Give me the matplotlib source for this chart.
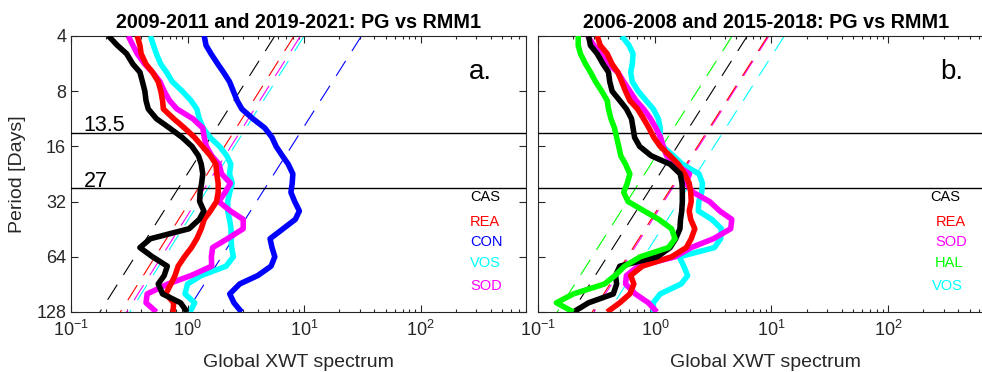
import matplotlib
matplotlib.use('Agg')
import matplotlib.pyplot as plt
from matplotlib.ticker import NullLocator

plt.rcParams['font.family'] = ['Liberation Sans', 'DejaVu Sans']

# period grid (days), shared by all curves
periods = [4, 4.5, 5, 5.7, 6.3, 7.1, 8, 9, 10, 11.3, 12.7, 14.3, 16, 18, 20, 22.6,
           25.4, 28.5, 32, 36, 40, 45, 51, 57, 64, 72, 81, 90, 102, 114, 128]

# panel a: 2009-2011 and 2019-2021
cas_a = [0.21, 0.25, 0.30, 0.34, 0.39, 0.41, 0.43, 0.44, 0.46, 0.54, 0.70, 0.90, 1.09, 1.24, 1.31, 1.35,
         1.32, 1.28, 1.27, 1.38, 1.26, 1.03, 0.48, 0.39, 0.50, 0.67, 0.63, 0.56, 0.61, 0.87, 0.99]
rea_a = [0.37, 0.39, 0.40, 0.44, 0.50, 0.56, 0.59, 0.61, 0.62, 0.76, 0.94, 1.15, 1.34, 1.57, 1.75, 1.78,
         1.83, 1.83, 1.77, 1.57, 1.39, 1.31, 1.20, 1.08, 0.94, 0.83, 0.78, 0.72, 0.65, 0.76, 0.75]
con_a = [1.39, 1.44, 1.59, 1.82, 2.03, 2.29, 2.47, 2.66, 2.92, 3.63, 4.60, 5.3, 5.75, 6.5, 7.3, 8.0,
         7.9, 7.7, 8.3, 9.1, 8.4, 6.6, 5.1, 5.3, 5.6, 5.2, 4.0, 2.8, 2.3, 2.5, 2.9]
vos_a = [0.48, 0.51, 0.54, 0.59, 0.66, 0.74, 0.90, 1.07, 1.20, 1.26, 1.36, 1.56, 1.88, 2.17, 2.35, 2.29,
         2.42, 2.30, 2.21, 2.21, 2.29, 2.36, 2.36, 2.39, 2.47, 2.14, 1.31, 1.00, 0.95, 1.15, 1.05]
sod_a = [0.31, 0.34, 0.37, 0.43, 0.50, 0.58, 0.63, 0.70, 0.81, 1.11, 1.35, 1.39, 1.45, 1.61, 1.86, 1.96,
         2.33, 2.10, 1.85, 2.33, 3.0, 3.0, 2.2, 1.64, 1.60, 1.61, 1.07, 0.68, 0.45, 0.44, 0.54]

# panel b: 2006-2008 and 2015-2018
cas_b = [0.27, 0.28, 0.32, 0.36, 0.40, 0.41, 0.43, 0.50, 0.57, 0.63, 0.65, 0.67, 0.74, 0.93, 1.35, 1.65,
         1.71, 1.72, 1.72, 1.70, 1.66, 1.64, 1.51, 1.35, 1.05, 0.50, 0.46, 0.47, 0.44, 0.27, 0.20]
rea_b = [0.32, 0.34, 0.39, 0.43, 0.48, 0.52, 0.56, 0.61, 0.71, 0.80, 0.89, 0.98, 1.11, 1.35, 1.59, 1.80,
         1.97, 2.03, 2.05, 1.97, 2.03, 2.20, 2.05, 1.86, 1.39, 0.78, 0.62, 0.66, 0.61, 0.50, 0.39]
sod_b = [0.265, 0.30, 0.34, 0.40, 0.48, 0.54, 0.61, 0.69, 0.80, 0.92, 1.02, 1.12, 1.18, 1.26, 1.51, 1.98,
         1.85, 2.13, 2.95, 3.6, 4.57, 4.47, 3.18, 2.05, 1.49, 0.72, 0.57, 0.56, 0.68, 0.88, 1.04]
hal_b = [0.22, 0.22, 0.23, 0.255, 0.28, 0.31, 0.35, 0.39, 0.40, 0.42, 0.45, 0.47, 0.49, 0.51, 0.56, 0.61,
         0.58, 0.54, 0.59, 0.81, 1.08, 1.39, 1.49, 1.31, 0.75, 0.55, 0.455, 0.37, 0.20, 0.143, 0.20]
vos_b = [0.52, 0.60, 0.65, 0.64, 0.62, 0.64, 0.72, 0.84, 0.97, 1.07, 1.11, 1.11, 1.17, 1.44, 1.72, 2.39,
         2.56, 2.52, 2.38, 2.36, 3.08, 3.72, 3.67, 3.24, 1.62, 1.77, 1.91, 1.68, 1.11, 0.97, 0.97]

# significance lines: spectrum value at period 4 and at period 128
sig_periods = [4, 128]
sig_a = {'CAS': [5.6, 0.177], 'REA': [8.2, 0.265], 'CON': [31, 0.98], 'VOS': [10.0, 0.32], 'SOD': [9.3, 0.30]}
sig_b = {'CAS': [6.2, 0.195], 'REA': [9.3, 0.29], 'SOD': [9.5, 0.30], 'HAL': [4.6, 0.145], 'VOS': [12.9, 0.40]}

band_periods = [13.5, 27]
ytick_vals = [4, 8, 16, 32, 64, 128]

colors = {'CAS': 'k', 'REA': (1, 0, 0), 'CON': (0, 0, 1), 'VOS': (0, 1, 1), 'SOD': (1, 0, 1), 'HAL': (0, 1, 0)}
gray = '#262626'

fig = plt.figure(figsize=(9.82, 3.72), dpi=100)
W, H = 982., 372.
ax_a = fig.add_axes([71 / W, 1 - 312 / H, 455 / W, 276 / H])
ax_b = fig.add_axes([538.3 / W, 1 - 312 / H, 455 / W, 276 / H])


def setup(ax, title, tag, tag_x):
    ax.set_xscale('log')
    ax.set_yscale('log', base=2)
    ax.set_xlim(0.1, 800)
    ax.set_ylim(128, 4)
    ax.set_yticks(ytick_vals)
    ax.yaxis.set_minor_locator(NullLocator())
    ax.tick_params(which='both', direction='in', top=True, right=True, colors=gray,
                   labelsize=13, width=0.8)
    ax.tick_params(axis='x', which='both', pad=6)
    ax.tick_params(which='major', length=5)
    ax.tick_params(which='minor', length=2.5)
    for s in ax.spines.values():
        s.set_color(gray)
        s.set_linewidth(0.8)
    for p in band_periods:
        ax.axhline(p, color='k', lw=1.0, zorder=3)
    ax.set_title(title, fontsize=14.2, fontweight='bold', pad=6)
    ax.set_xlabel('Global XWT spectrum', fontsize=14, color=gray, labelpad=9.5)
    ax.text(tag_x, 0.844, tag, transform=ax.transAxes, fontsize=20, ha='right', va='baseline')


setup(ax_a, '2009-2011 and 2019-2021: PG vs RMM1', 'a.', 0.925)
setup(ax_b, '2006-2008 and 2015-2018: PG vs RMM1', 'b.', 0.933)

ax_a.set_yticklabels([str(v) for v in ytick_vals])
ax_b.set_yticklabels([])
ax_a.set_ylabel('Period [Days]', fontsize=14, color=gray, labelpad=7)

for p in band_periods:
    ax_a.annotate(str(p), (0.128, p), xytext=(0, 1), textcoords='offset points',
                  fontsize=15.5, va='baseline', ha='left')


def draw(ax, curves, sig, order, label_x, label_y):
    for name in order:
        ax.plot(sig[name], sig_periods, color=colors[name], lw=0.8, dashes=(16, 10.5), zorder=2)
    for name in order:
        ax.plot(curves[name], periods, color=colors[name], lw=4, solid_capstyle='butt',
                solid_joinstyle='round', zorder=4)
    for i, name in enumerate(sig):
        ax.text(label_x[i], label_y[i], name, transform=ax.transAxes, color=colors[name],
                fontsize=10.5, ha='left', va='center')


curves_a = {'CAS': cas_a, 'REA': rea_a, 'CON': con_a, 'VOS': vos_a, 'SOD': sod_a}
curves_b = {'CAS': cas_b, 'REA': rea_b, 'SOD': sod_b, 'HAL': hal_b, 'VOS': vos_b}
label_y = [0.415, 0.327, 0.254, 0.178, 0.094]
draw(ax_a, curves_a, sig_a, ['CON', 'VOS', 'SOD', 'REA', 'CAS'], [0.877] * 5, label_y)
draw(ax_b, curves_b, sig_b, ['VOS', 'SOD', 'REA', 'CAS', 'HAL'],
     [0.862, 0.874, 0.872, 0.872, 0.865], label_y)

fig.savefig('out.png', dpi=100)
